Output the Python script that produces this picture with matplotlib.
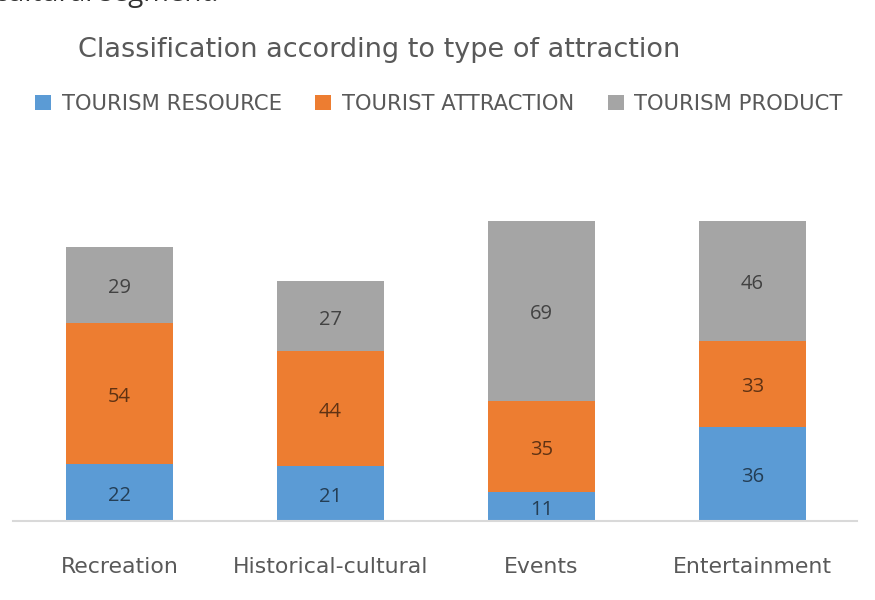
import matplotlib
matplotlib.use("Agg")
from matplotlib import pyplot as plt
from matplotlib.patches import Patch

categories = ["Recreation", "Historical-cultural", "Events", "Entertainment"]
tourism_resource = [22, 21, 11, 36]
tourist_attraction = [54, 44, 35, 33]
tourism_product = [29, 27, 69, 46]

series_names = ["TOURISM RESOURCE", "TOURIST ATTRACTION", "TOURISM PRODUCT"]
colors = ["#5B9BD5", "#ED7D31", "#A5A5A5"]
text_gray = "#595959"

fig = plt.figure(figsize=(8.75, 6), dpi=100)
# axes placed in pixel terms: baseline at y=521, spans x=13..857
ax = fig.add_axes([13 / 875, 79 / 600, 844 / 875, 321 / 600])

x = list(range(len(categories)))
bottom = [0] * len(categories)
for values, color in zip([tourism_resource, tourist_attraction, tourism_product], colors):
    bars = ax.bar(x, values, width=0.507, bottom=bottom, color=color, linewidth=0)
    for bar, v in zip(bars, values):
        ax.annotate(
            f"{v}",
            (bar.get_x() + bar.get_width() / 2, bar.get_y() + bar.get_height() / 2),
            xytext=(0, -2.5),
            textcoords="offset points",
            ha="center",
            va="center",
            fontsize=14.5,
            family="Open Sans",
            color="black",
            alpha=0.6,
        )
    bottom = [b + v for b, v in zip(bottom, values)]

ax.set_xlim(-0.505, 3.495)
ax.set_ylim(0, 123)
for side in ["top", "left", "right"]:
    ax.spines[side].set_visible(False)
ax.spines["bottom"].set_color("#D9D9D9")
ax.spines["bottom"].set_linewidth(1.5)
ax.set_yticks([])
ax.set_xticks(x)
ax.set_xticklabels(categories, fontsize=15.8, color=text_gray)
ax.tick_params(axis="x", length=0, pad=26)

fig.text(379 / 875, 1 - 50 / 600, "Classification according to type of attraction",
         ha="center", va="center", fontsize=19.5, color=text_gray)

handles = [Patch(facecolor=c, edgecolor="none") for c in colors]
fig.legend(
    handles,
    series_names,
    loc="center",
    bbox_to_anchor=(439 / 875, 1 - 104 / 600),
    ncol=3,
    frameon=False,
    fontsize=15.2,
    handlelength=0.75,
    handleheight=0.75,
    handletextpad=0.5,
    columnspacing=1.6,
    labelcolor=text_gray,
)

# tail of the preceding paragraph, cut by the top edge
fig.text(218 / 875, 1 - 1 / 600, "cultural segment.", ha="right", va="baseline",
         fontsize=20, family="Open Sans", color="#333333")

fig.savefig("out.png", dpi=100)
